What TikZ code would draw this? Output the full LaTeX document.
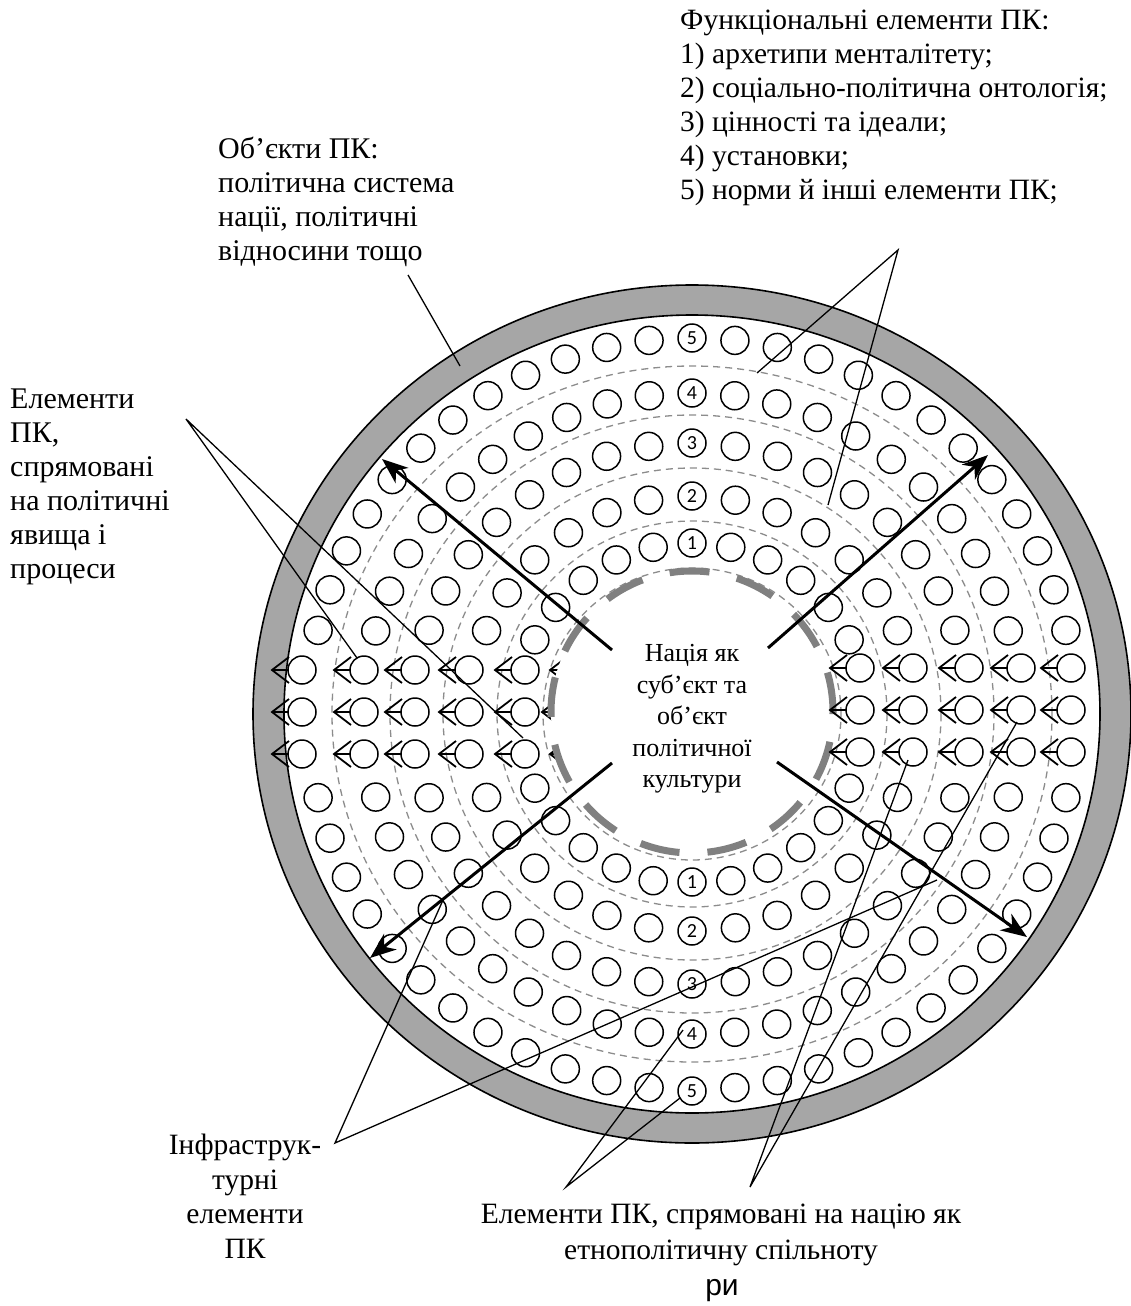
\documentclass[tikz,border=0pt]{standalone}
\usepackage{fontspec}
\setmainfont{Liberation Serif}
\newfontfamily\numfont{Carlito}
\newfontfamily\sansfnt{Liberation Sans}
\usetikzlibrary{arrows.meta}
\definecolor{ringgray}{HTML}{A6A6A6}
\definecolor{dashgray}{HTML}{8C8C8C}
\definecolor{thickgray}{HTML}{808080}
\newcommand\arrcirc[2]{%
  \draw[smallc] (#1,#2) circle[radius=14pt];
  \draw[chev] ({#1-14},#2) -- ({#1-30},#2);
  \draw[chev] ({#1-13},{#2-13}) -- ({#1-30},#2) -- ({#1-13},{#2+13});
}
\begin{document}
\begin{tikzpicture}[x=1pt,y=-1pt,
  smallc/.style={draw=black,line width=1.5pt},
  chev/.style={draw=black,line width=1.8pt},
  thindash/.style={draw=dashgray,line width=1.3pt,dash pattern=on 7pt off 5pt},
  thickdash/.style={draw=thickgray,line width=7pt,dash pattern=on 40pt off 28pt},
  bigarrow/.style={draw=black,line width=3pt,-{Stealth[length=26pt,width=20pt,inset=8pt]}},
  leader/.style={draw=black,line width=1.3pt},
  numc/.style={circle,draw=black,fill=white,line width=1.5pt,minimum size=28pt,inner sep=0pt,font=\numfont\fontsize{20}{20}\selectfont},
  lbl/.style={inner sep=0pt,font=\fontsize{29.5}{34}\selectfont}
]
\useasboundingbox (0,0) rectangle (1131,1306);
% outer ring
\filldraw[fill=ringgray,draw=black,line width=1.6pt] (692,714) ellipse[x radius=439pt,y radius=429pt];
\filldraw[fill=white,draw=black,line width=1.6pt] (692,714) ellipse[x radius=408pt,y radius=399pt];
% thin dashed rings
\foreach \rx/\ry in {149/146,195/193,249/246,302/299,360/348}{
  \draw[thindash] (692,714) ellipse[x radius=\rx pt,y radius=\ry pt];
}
% small circles in rings
\foreach \r/\n in {171/28,218/32,271/40,321/48,376/56}{
  \pgfmathsetmacro{\stp}{360/\n}
  \foreach \i in {1,...,\n}{
    \pgfmathsetmacro{\ang}{90+\i*\stp}
    \pgfmathsetmacro{\dy}{abs(\r*sin(\ang))}
    \pgfmathsetmacro{\dx}{abs(\r*cos(\ang))}
    \ifdim \dy pt < 60pt \else
      \ifdim \dx pt < 5pt \else
        \draw[smallc] ({692+1.02*\r*cos(\ang)},{714+\r*sin(\ang)}) circle[radius=14pt];
      \fi
    \fi
  }
}
% numbered circles
\node[numc] (t5) at (692,338) {5};
\node[numc] (t4) at (692,393) {4};
\node[numc] (t3) at (692,443) {3};
\node[numc] (t2) at (692,496) {2};
\node[numc] (t1) at (692,543) {1};
\node[numc] (b1) at (692,882) {1};
\node[numc] (b2) at (692,931) {2};
\node[numc] (b3) at (692,984) {3};
\node[numc] (b4) at (692,1034) {4};
\node[numc] (b5) at (692,1091) {5};
% hidden arrows behind the centre
\arrcirc{580}{670}
\arrcirc{572}{712}
\arrcirc{580}{754}
% centre disk
\filldraw[fill=white,thickdash] (692,712) circle[radius=141pt];
% arrow rows, left
\foreach \yy in {670,712,754}{
  \foreach \xx in {302,364,415,469,525}{
    \arrcirc{\xx}{\yy}
  }
}
% arrow rows, right
\foreach \yy in {668,710,752}{
  \foreach \xx in {860,913,969,1021,1071}{
    \arrcirc{\xx}{\yy}
  }
}
% centre text
\node[inner sep=0pt,align=center,font=\fontsize{26}{31.5}\selectfont] (nation) at (692,719)
  {Нація як\\суб’єкт та\\об’єкт\\політичної\\культури};
% big arrows
\coordinate (ulS) at (612,650); \coordinate (ulE) at (382,459);
\coordinate (urS) at (768,648); \coordinate (urE) at (988,455);
\coordinate (llS) at (612,763); \coordinate (llE) at (370,958);
\coordinate (lrS) at (777,762); \coordinate (lrE) at (1027,937);
\draw[bigarrow] (ulS) -- (ulE);
\draw[bigarrow] (urS) -- (urE);
\draw[bigarrow] (llS) -- (llE);
\draw[bigarrow] (lrS) -- (lrE);
% labels
\node[lbl,align=left,anchor=west,font=\fontsize{30}{34}\selectfont] (objlbl) at (218,202)
  {Об’єкти ПК:\\політична система\\нації, політичні\\відносини тощо};
\node[lbl,align=left,anchor=west,font=\fontsize{29.5}{34}\selectfont] (funlbl) at (680,108)
  {Функціональні елементи ПК:\\1) архетипи менталітету;\\2) соціально-політична онтологія;\\3) цінності та ідеали;\\4) установки;\\5) норми й інші елементи ПК;};
\node[lbl,align=left,anchor=west,font=\fontsize{30}{34}\selectfont] (pollbl) at (10,487)
  {Елементи\\ПК,\\спрямовані\\на політичні\\явища і\\процеси};
\node[lbl,align=center,font=\fontsize{29.5}{34.5}\selectfont] (inflbl) at (245,1196)
  {Інфраструк-\\турні\\елементи\\ПК};
\node[lbl,align=center,font=\fontsize{29.5}{35.5}\selectfont] (ethlbl) at (721,1235)
  {Елементи ПК, спрямовані на націю як\\етнополітичну спільноту};
\node[inner sep=0pt,font=\sansfnt\fontsize{30}{30}\selectfont] (ri) at (722,1291) {ри};
% leader lines
\coordinate (objA) at (408,275); \coordinate (objB) at (460,366);
\coordinate (funA) at (898,250); \coordinate (funB) at (757,373); \coordinate (funC) at (828,505);
\coordinate (polA) at (186,419); \coordinate (polB) at (357,658); \coordinate (polC) at (523,738);
\coordinate (infA) at (335,1143); \coordinate (infB) at (443,900); \coordinate (infC) at (937,880);
\coordinate (ethA) at (566,1187); \coordinate (ethB) at (683,1030); \coordinate (ethC) at (680,1098);
\coordinate (ethD) at (750,1187); \coordinate (ethE) at (908,760); \coordinate (ethF) at (1017,722);
\draw[leader] (objA) -- (objB);
\draw[leader] (funB) -- (funA) -- (funC);
\draw[leader] (polB) -- (polA) -- (polC);
\draw[leader] (infB) -- (infA) -- (infC);
\draw[leader] (ethB) -- (ethA) -- (ethC);
\draw[leader] (ethE) -- (ethD) -- (ethF);
\end{tikzpicture}
\end{document}
